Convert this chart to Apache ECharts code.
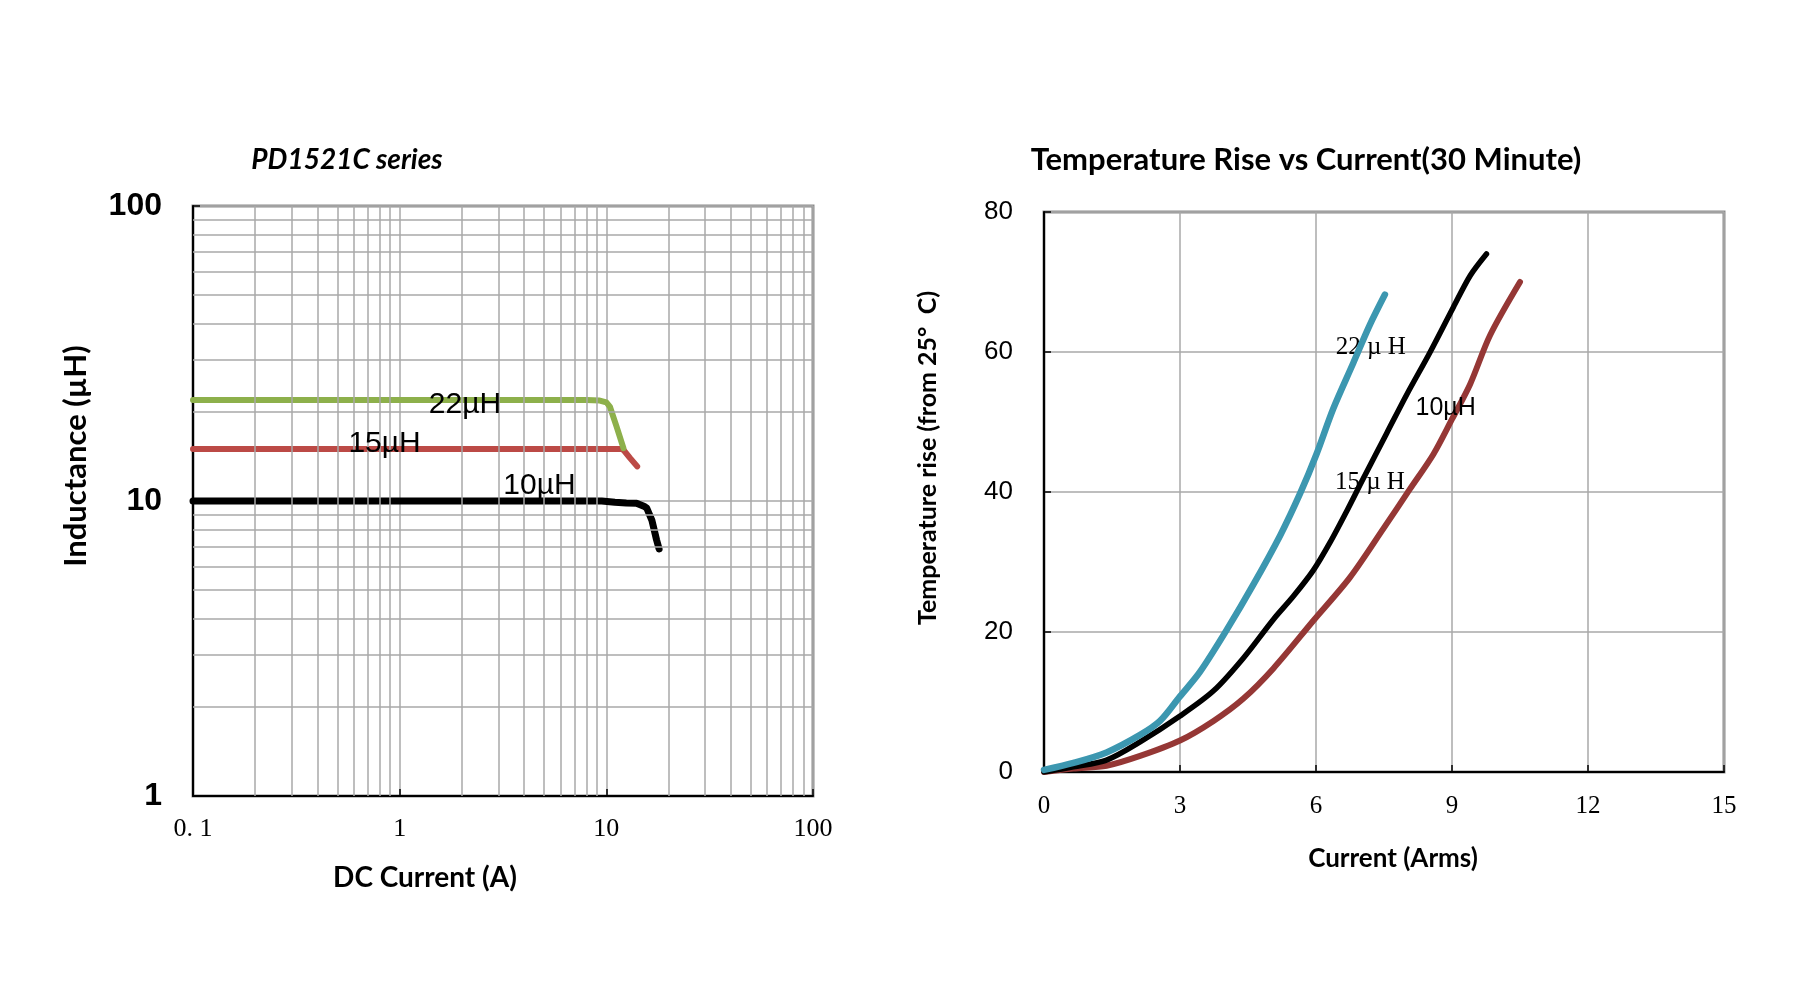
<!DOCTYPE html>
<html><head><meta charset="utf-8">
<script src="https://cdn.jsdelivr.net/npm/echarts@6/dist/echarts.min.js"></script>
<style>html,body{margin:0;padding:0;background:#fff}#c{width:1800px;height:1000px}</style>
</head><body><div id="c"></div>
<script>
// ---------- Left chart: Inductance vs DC current (log-log) ----------
const ind22X = [0.1, 1, 5, 8, 9.3, 10.0, 10.4, 11.2, 12.1];
const ind22Y = [22, 22, 22, 22, 21.9, 21.6, 20.9, 17.9, 15.1];
const ind15X = [0.1, 1, 5, 10, 11.8, 12.1, 13.0, 14.1];
const ind15Y = [15, 15, 15, 15, 15, 14.9, 14.0, 13.1];
const ind10X = [0.1, 1, 5, 9.5, 11, 12.5, 14, 15.2, 15.7, 16.6, 17.5, 18.0];
const ind10Y = [10, 10, 10, 10, 9.9, 9.85, 9.83, 9.6, 9.45, 8.62, 7.38, 6.88];
const leftXTicks = [0.1, 1, 10, 100];
const leftXTickLabels = ['0. 1', '1', '10', '100'];
const leftYTicks = [1, 10, 100];
const leftYTickLabels = ['1', '10', '100'];
const leftXMinor = [0.2,0.3,0.4,0.5,0.6,0.7,0.8,0.9, 2,3,4,5,6,7,8,9, 20,30,40,50,60,70,80,90];
const leftYMinor = [2,3,4,5,6,7,8,9, 20,30,40,50,60,70,80,90];
const leftLabelNames = ['22µH', '15µH', '10µH'];
const leftLabelX = [2.07, 0.845, 4.75];
const leftLabelY = [21.2, 15.6, 11.3];

// ---------- Right chart: Temperature rise vs current ----------
const t22X = [0, 0.65, 1.38, 2.12, 2.56, 3.0, 3.44, 4.03, 4.62, 5.21, 5.65, 6.01, 6.38, 6.82, 7.19, 7.52];
const t22Y = [0.3, 1.3, 2.8, 5.3, 7.3, 10.8, 14.3, 20.3, 26.8, 33.8, 39.8, 45.4, 51.9, 58.4, 63.9, 68.2];
const t10X = [0, 0.65, 1.38, 2.12, 3.0, 3.74, 4.4, 5.06, 5.5, 5.94, 6.31, 6.68, 7.04, 7.56, 8.0, 8.51, 9.03, 9.4, 9.76];
const t10Y = [0, 0.75, 1.7, 4.3, 8.0, 11.6, 16.3, 21.8, 25.1, 28.8, 32.8, 37.3, 41.9, 48.4, 53.9, 59.9, 66.4, 70.9, 74.0];
const t15X = [0, 0.65, 1.38, 2.12, 3.0, 3.74, 4.4, 5.06, 5.94, 6.75, 7.49, 8.07, 8.59, 9.0, 9.4, 9.84, 10.5];
const t15Y = [0, 0.5, 0.9, 2.3, 4.5, 7.3, 10.5, 14.8, 21.6, 27.8, 34.8, 40.4, 45.4, 50.4, 55.4, 62.4, 70.0];
const rightLabelNames = ['22 µ H', '10µH', '15 µ H'];
const rightLabelX = [7.21, 8.86, 7.19];
const rightLabelY = [60.7, 52.0, 41.4];

const zip = (xs, ys) => xs.map((x, i) => [x, ys[i]]);
const SANS = '"Liberation Sans", Arial, sans-serif';
const SERIF = '"Liberation Serif", "DejaVu Serif", serif';
const CAL = 'Lato, "Open Sans", sans-serif';

function tickFmt(ticks, labels) {
  return function (v) {
    for (let i = 0; i < ticks.length; i++) {
      if (Math.abs(Math.log10(v) - Math.log10(ticks[i])) < 1e-6) return labels[i];
    }
    return '';
  };
}

function annot(name, x, y, size, family) {
  return {
    symbol: 'circle', symbolSize: 0, silent: true,
    label: { show: true, position: 'inside', formatter: name, color: '#000', fontSize: size, fontFamily: family },
    data: [{ coord: [x, y] }]
  };
}

const chart = echarts.init(document.getElementById('c'), null, { renderer: 'canvas' });

const gridLine = { color: '#a8a8a8', width: 1.5, type: 'solid' };

const option = {
  animation: false,
  backgroundColor: '#fff',
  grid: [
    { left: 193, top: 206, width: 620, height: 590, show: true, borderColor: '#8c8c8c', borderWidth: 3, backgroundColor: 'transparent' },
    { left: 1044, top: 212, width: 680, height: 560, show: true, borderColor: '#8c8c8c', borderWidth: 3, backgroundColor: 'transparent' }
  ],
  xAxis: [
    {
      gridIndex: 0, type: 'log', logBase: 10, min: 0.1, max: 100,
      axisLine: { show: true, lineStyle: { color: '#000', width: 2 } },
      axisTick: { show: true, inside: true, length: 7, lineStyle: { color: '#000', width: 1.5 } },
      axisLabel: { margin: 20, fontFamily: SERIF, fontSize: 26, color: '#000', formatter: tickFmt(leftXTicks, leftXTickLabels) },
      splitLine: { show: true, lineStyle: gridLine }
    },
    {
      gridIndex: 1, type: 'value', min: 0, max: 15, interval: 3,
      axisLine: { show: true, onZero: false, lineStyle: { color: '#000', width: 2 } },
      axisTick: { show: true, inside: true, length: 7, lineStyle: { color: '#000', width: 1.5 } },
      axisLabel: { margin: 22, fontFamily: SERIF, fontSize: 25, color: '#000' },
      splitLine: { show: true, lineStyle: gridLine }
    }
  ],
  yAxis: [
    {
      gridIndex: 0, type: 'log', logBase: 10, min: 1, max: 100,
      axisLine: { show: true, lineStyle: { color: '#000', width: 2 } },
      axisTick: { show: true, inside: true, length: 7, lineStyle: { color: '#000', width: 1.5 } },
      axisLabel: { margin: 31, fontFamily: SANS, fontWeight: 'bold', fontSize: 32, color: '#000', formatter: tickFmt(leftYTicks, leftYTickLabels) },
      splitLine: { show: true, lineStyle: gridLine }
    },
    {
      gridIndex: 1, type: 'value', min: 0, max: 80, interval: 20,
      axisLine: { show: true, onZero: false, lineStyle: { color: '#000', width: 2 } },
      axisTick: { show: true, inside: true, length: 7, lineStyle: { color: '#000', width: 1.5 } },
      axisLabel: { margin: 31, fontFamily: SANS, fontSize: 26, color: '#000' },
      splitLine: { show: true, lineStyle: gridLine }
    }
  ],
  series: [
    {
      type: 'line', xAxisIndex: 0, yAxisIndex: 0, data: [], z: 1, silent: true,
      markLine: {
        silent: true, symbol: ['none', 'none'], animation: false,
        label: { show: false }, lineStyle: gridLine,
        data: leftXMinor.map(v => ({ xAxis: v })).concat(leftYMinor.map(v => ({ yAxis: v })))
      }
    },
    {
      name: '15µH', type: 'line', xAxisIndex: 0, yAxisIndex: 0, z: 3, showSymbol: false, symbol: 'none',
      data: zip(ind15X, ind15Y), lineStyle: { color: '#BC4A46', width: 6, cap: 'round', join: 'round' },
      markPoint: annot(leftLabelNames[1], leftLabelX[1], leftLabelY[1], 30, SANS)
    },
    {
      name: '22µH', type: 'line', xAxisIndex: 0, yAxisIndex: 0, z: 4, showSymbol: false, symbol: 'none',
      data: zip(ind22X, ind22Y), lineStyle: { color: '#8DB04B', width: 6, cap: 'round', join: 'round' },
      markPoint: annot(leftLabelNames[0], leftLabelX[0], leftLabelY[0], 30, SANS)
    },
    {
      name: '10µH', type: 'line', xAxisIndex: 0, yAxisIndex: 0, z: 4, showSymbol: false, symbol: 'none',
      data: zip(ind10X, ind10Y), lineStyle: { color: '#000', width: 7, cap: 'round', join: 'round' },
      markPoint: annot(leftLabelNames[2], leftLabelX[2], leftLabelY[2], 30, SANS)
    },
    {
      name: 'T15', type: 'line', xAxisIndex: 1, yAxisIndex: 1, z: 3, showSymbol: false, symbol: 'none', smooth: 0.3,
      data: zip(t15X, t15Y), lineStyle: { color: '#953735', width: 6, cap: 'round', join: 'round' },
      markPoint: annot(rightLabelNames[2], rightLabelX[2], rightLabelY[2], 25, SERIF)
    },
    {
      name: 'T10', type: 'line', xAxisIndex: 1, yAxisIndex: 1, z: 4, showSymbol: false, symbol: 'none', smooth: 0.3,
      data: zip(t10X, t10Y), lineStyle: { color: '#000', width: 5.5, cap: 'round', join: 'round' },
      markPoint: annot(rightLabelNames[1], rightLabelX[1], rightLabelY[1], 25, SANS)
    },
    {
      name: 'T22', type: 'line', xAxisIndex: 1, yAxisIndex: 1, z: 5, showSymbol: false, symbol: 'none', smooth: 0.3,
      data: zip(t22X, t22Y), lineStyle: { color: '#3C97B0', width: 6.5, cap: 'round', join: 'round' },
      markPoint: annot(rightLabelNames[0], rightLabelX[0], rightLabelY[0], 25, SERIF)
    }
  ],
  graphic: [
    { type: 'text', x: 347, y: 160, silent: true, style: { text: 'PD1521C series', font: 'italic bold 28px ' + CAL, fill: '#000', align: 'center', verticalAlign: 'middle' } },
    { type: 'text', x: 1306, y: 160, silent: true, style: { text: 'Temperature Rise vs Current(30 Minute)', font: 'bold 31px ' + CAL, fill: '#000', align: 'center', verticalAlign: 'middle' } },
    { type: 'text', x: 425, y: 878, silent: true, style: { text: 'DC Current (A)', font: 'bold 28px ' + CAL, fill: '#000', align: 'center', verticalAlign: 'middle' } },
    { type: 'text', x: 76, y: 456, rotation: Math.PI / 2, silent: true, style: { text: 'Inductance (µH)', font: 'bold 31px ' + CAL, fill: '#000', align: 'center', verticalAlign: 'middle' } },
    { type: 'text', x: 1393, y: 859, silent: true, style: { text: 'Current (Arms)', font: 'bold 26px ' + CAL, fill: '#000', align: 'center', verticalAlign: 'middle' } },
    { type: 'text', x: 928, y: 458, rotation: Math.PI / 2, silent: true, style: { text: 'Temperature rise (from 25°  C)', font: 'bold 25px ' + CAL, fill: '#000', align: 'center', verticalAlign: 'middle' } }
  ]
};
chart.setOption(option);
</script></body></html>
